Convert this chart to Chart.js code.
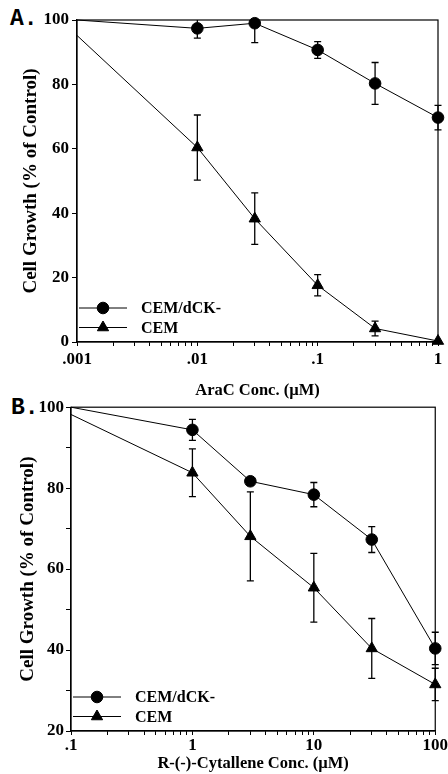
<!DOCTYPE html>
<html>
<head>
<meta charset="utf-8">
<script src="https://cdn.jsdelivr.net/npm/chart.js@4/dist/chart.umd.min.js"></script>
<style>
  html, body { margin: 0; padding: 0; background: #fff; }
  body { width: 448px; height: 774px; position: relative; overflow: hidden; }
  canvas { position: absolute; left: 0; }
  #cA { top: 0; }
  #cB { top: 395px; }
  .plabel { position: absolute; font-family: "Liberation Mono", monospace; font-weight: bold; font-size: 23px; line-height: 23px; color: #000; }
</style>
</head>
<body>
<div class="plabel" style="left:10px; top:8px;">A.</div>
<div class="plabel" style="left:11px; top:397px;">B.</div>
<canvas id="cA" width="448" height="405"></canvas>
<canvas id="cB" width="448" height="379"></canvas>
<script>
// ---------- Panel A : AraC ----------
const concA = [0.001, 0.01, 0.03, 0.1, 0.3, 1];
const dckA = [100, 97.4, 99.0, 90.7, 80.3, 69.7];
const dckErrA = [0, 3, 6, 2.6, 6.5, 3.8];
const cemA = [95.2, 60.4, 38.3, 17.6, 4.2, 0.3];
const cemErrA = [0, 10.1, 8, 3.3, 2.3, 0];
const xTicksA = [0.001, 0.01, 0.1, 1];
const xTickLabelsA = ['.001', '.01', '.1', '1'];
const yTicksA = [0, 20, 40, 60, 80, 100];

// ---------- Panel B : R-(-)-Cytallene ----------
const concB = [0.1, 1, 3, 10, 30, 100];
const dckB = [100, 94.4, 81.7, 78.4, 67.3, 40.4];
const dckErrB = [0, 2.6, 0.8, 3, 3.2, 4];
const cemB = [98.2, 83.8, 68.1, 55.4, 40.4, 31.5];
const cemErrB = [0, 5.9, 11, 8.5, 7.4, 4];
const xTicksB = [0.1, 1, 10, 100];
const xTickLabelsB = ['.1', '1', '10', '100'];
const yTicksB = [20, 40, 60, 80, 100];

const seriesNames = ['CEM/dCK-', 'CEM'];

Chart.defaults.font.family = '"Liberation Serif", "Times New Roman", serif';
Chart.defaults.font.weight = 'bold';
Chart.defaults.color = '#000';

function pts(xs, ys) { return xs.map((x, i) => ({ x: x, y: ys[i] })); }

const errorBars = {
  id: 'errorBars',
  afterDatasetsDraw(chart) {
    const { ctx, chartArea: a } = chart;
    const xs = chart.scales.x, ys = chart.scales.y;
    ctx.save();
    ctx.beginPath();
    ctx.rect(a.left - 10, a.top, a.right - a.left + 20, a.bottom - a.top);
    ctx.clip();
    ctx.strokeStyle = '#000';
    ctx.lineWidth = 1.3;
    chart.data.datasets.forEach(ds => {
      if (!ds.errors) return;
      ds.data.forEach((p, i) => {
        const e = ds.errors[i];
        if (!e) return;
        const px = xs.getPixelForValue(p.x);
        const yt = ys.getPixelForValue(p.y + e);
        const yb = ys.getPixelForValue(p.y - e);
        ctx.beginPath();
        ctx.moveTo(px, yt); ctx.lineTo(px, yb);
        ctx.moveTo(px - 3.5, yt); ctx.lineTo(px + 3.5, yt);
        ctx.moveTo(px - 3.5, yb); ctx.lineTo(px + 3.5, yb);
        ctx.stroke();
      });
    });
    ctx.restore();
  }
};

const frameAndLegend = {
  id: 'frameAndLegend',
  afterDraw(chart) {
    const { ctx, chartArea: a } = chart;
    ctx.save();
    ctx.strokeStyle = '#000';
    ctx.lineWidth = 1.2;
    ctx.strokeRect(a.left, a.top, a.right - a.left, a.bottom - a.top);
    // legend inside lower-left
    const rows = [a.bottom - 34, a.bottom - 14.5];
    chart.data.datasets.forEach((ds, i) => {
      const y = rows[i];
      ctx.beginPath();
      ctx.lineWidth = 1;
      ctx.moveTo(a.left + 2, y); ctx.lineTo(a.left + 50, y);
      ctx.stroke();
      ctx.fillStyle = '#000';
      Chart.helpers.drawPoint(ctx, { pointStyle: ds.pointStyle, radius: ds.legendRadius, borderWidth: 1 }, a.left + 26, y);
      ctx.font = 'bold 16px "Liberation Serif", serif';
      ctx.textBaseline = 'middle';
      ctx.textAlign = 'left';
      ctx.fillText(ds.label, a.left + 64, y + 1);
    });
    ctx.restore();
  }
};

function makeChart(id, conc, dck, dckErr, cem, cemErr, xMin, xMax, xMajors, xLabels, yMin, yMax, yStep, yLabels, opts) {
  const minors = [];
  xMajors.forEach((m, i) => {
    if (i < xMajors.length - 1) for (let k = 2; k <= 9; k++) minors.push(m * k);
  });
  return new Chart(document.getElementById(id), {
    type: 'line',
    data: {
      datasets: [
        {
          label: seriesNames[0],
          data: pts(conc, dck),
          errors: dckErr,
          borderColor: '#000', backgroundColor: '#000', borderWidth: 1,
          pointStyle: 'circle', legendRadius: 5.8,
          pointRadius: ctx => ctx.dataIndex === 0 ? 0 : 5.8,
          pointBorderWidth: 1,
          tension: 0, clip: false
        },
        {
          label: seriesNames[1],
          data: pts(conc, cem),
          errors: cemErr,
          borderColor: '#000', backgroundColor: '#000', borderWidth: 1,
          pointStyle: 'triangle', legendRadius: 6.5,
          pointRadius: ctx => ctx.dataIndex === 0 ? 0 : 6.5,
          pointBorderWidth: 1,
          tension: 0, clip: false
        }
      ]
    },
    options: {
      responsive: false,
      animation: false,
      devicePixelRatio: 1,
      layout: { padding: opts.padding },
      plugins: { legend: { display: false }, tooltip: { enabled: false } },
      scales: {
        x: {
          type: 'logarithmic',
          min: xMin, max: xMax,
          afterFit: s => { s.height = opts.xHeight; },
          afterBuildTicks: s => {
            s.ticks = xMajors.concat(minors).sort((p, q) => p - q).map(v => ({ value: v, major: xMajors.includes(v) }));
          },
          ticks: {
            autoSkip: false, maxRotation: 0, minRotation: 0,
            padding: opts.xTickPad,
            font: { size: 17, weight: 'bold' },
            callback: v => { const i = xMajors.indexOf(v); return i >= 0 ? xLabels[i] : ''; }
          },
          grid: { display: true, drawOnChartArea: false, color: '#000', tickLength: 4, tickWidth: 1 },
          border: { display: true, color: '#000', width: 1.2 },
          title: {
            display: true, text: opts.xTitle,
            font: { size: 16.5, weight: 'bold' },
            padding: { top: 0, bottom: opts.xTitlePad }
          }
        },
        y: {
          type: 'linear',
          min: yMin, max: yMax,
          afterFit: s => { s.width = opts.yWidth; },
          ticks: {
            stepSize: yStep, autoSkip: false,
            padding: opts.yTickPad,
            font: { size: 17, weight: 'bold' },
            callback: v => yLabels.includes(v) ? String(v) : ''
          },
          grid: { display: true, drawOnChartArea: false, color: '#000', tickLength: 5, tickWidth: 1 },
          border: { display: true, color: '#000', width: 1.2 },
          title: {
            display: true, text: 'Cell Growth (% of Control)',
            font: { size: 19, weight: 'bold' },
            padding: { top: opts.yTitlePad, bottom: 0 }
          }
        }
      }
    },
    plugins: [errorBars, frameAndLegend]
  });
}

makeChart('cA', concA, dckA, dckErrA, cemA, cemErrA, 0.001, 1, xTicksA, xTickLabelsA, 0, 100, 20, yTicksA, {
  padding: { top: 20, right: 10, left: 0, bottom: 0 },
  xHeight: 63, yWidth: 77, xTickPad: 3, yTickPad: 3,
  xTitle: 'AraC Conc. (µM)', xTitlePad: 4.6, yTitlePad: 19.6
});

makeChart('cB', concB, dckB, dckErrB, cemB, cemErrB, 0.1, 100, xTicksB, xTickLabelsB, 20, 100, 10, yTicksB, {
  padding: { top: 11.5, right: 11, left: 0, bottom: 0 },
  xHeight: 43, yWidth: 71, xTickPad: 0, yTickPad: 2,
  xTitle: 'R-(-)-Cytallene Conc. (µM)', xTitlePad: 0.1, yTitlePad: 16.6
});
</script>
</body>
</html>
